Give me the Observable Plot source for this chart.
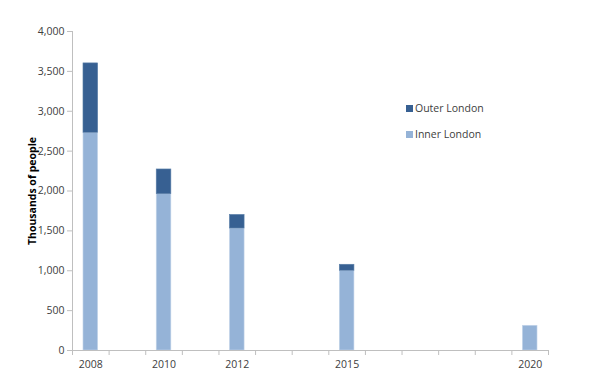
<!DOCTYPE html>
<html>
<head>
<meta charset="utf-8">
<script src="https://cdn.jsdelivr.net/npm/d3@7"></script>
<script src="https://cdn.jsdelivr.net/npm/@observablehq/plot@0.6"></script>
<style>
  html, body { margin: 0; padding: 0; background: #fff; }
  #wrap { position: relative; width: 600px; height: 382px; font-family: "Open Sans", "Liberation Sans", sans-serif; }
  .leg { position: absolute; font-size: 10.5px; color: #404040; display: flex; align-items: center; }
  .leg span.sw { display: inline-block; width: 7px; height: 7px; margin-right: 2px; }
</style>
</head>
<body>
<div id="wrap"></div>
<script>
const years = [2008, 2010, 2012, 2015, 2020];
const innerLondon = [2730, 1960, 1530, 1000, 310];
const outerLondon = [870, 310, 170, 75, 0];
const seriesNames = ["Outer London", "Inner London"];
const seriesColors = ["#376092", "#95b3d7"];
const yTicks = [0, 500, 1000, 1500, 2000, 2500, 3000, 3500, 4000];
const xLabelYears = [2008, 2010, 2012, 2015, 2020];

const data = years.map((y, i) => ({year: y, inner: innerLondon[i], outer: outerLondon[i]}));
const halfYears = d3.range(2007.5, 2021, 1);

const axisColor = "#bfbfbf";
const chart = Plot.plot({
  width: 600,
  height: 382,
  marginLeft: 72,
  marginRight: 52,
  marginTop: 31,
  marginBottom: 32,
  style: {fontFamily: '"Open Sans", "Liberation Sans", sans-serif', fontSize: "10.5px", color: "#404040", background: "#fff"},
  x: {type: "linear", domain: [2007.5, 2020.5]},
  y: {domain: [0, 4000]},
  marks: [
    Plot.rect(data, {x1: d => d.year - 0.2, x2: d => d.year + 0.2, y1: 0, y2: "inner", fill: seriesColors[1], stroke: "#c6d6ea", strokeWidth: 0.6}),
    Plot.rect(data.filter(d => d.outer > 0), {x1: d => d.year - 0.2, x2: d => d.year + 0.2, y1: "inner", y2: d => d.inner + d.outer, fill: seriesColors[0], stroke: "#5a7fa8", strokeWidth: 0.6}),
    Plot.ruleY([0], {stroke: axisColor, strokeWidth: 1}),
    Plot.ruleX([2007.5], {stroke: axisColor, strokeWidth: 1}),
    Plot.axisY({ticks: yTicks, tickFormat: d3.format(","), tickSize: 5, tickPadding: 3, stroke: axisColor, label: null, fill: "#404040"}),
    Plot.axisX({ticks: halfYears, tickFormat: () => "", tickSize: 5, stroke: axisColor, label: null}),
    Plot.axisX({ticks: xLabelYears, tickFormat: d => String(d), tickSize: 0, tickPadding: 10, label: null, fill: "#404040"}),
    Plot.text(["Thousands of people"], {frameAnchor: "left", textAnchor: "middle", rotate: -90, dx: -40, fontWeight: "bold", fill: "#000", fontSize: 10.5})
  ]
});

const wrap = document.getElementById("wrap");
wrap.appendChild(chart);
const legendPos = [[406, 101], [406, 127]];
seriesNames.forEach((name, i) => {
  const el = document.createElement("div");
  el.className = "leg";
  el.style.left = legendPos[i][0] + "px";
  el.style.top = legendPos[i][1] + "px";
  el.innerHTML = `<span class="sw" style="background:${seriesColors[i]}"></span>${name}`;
  wrap.appendChild(el);
});
</script>
</body>
</html>
